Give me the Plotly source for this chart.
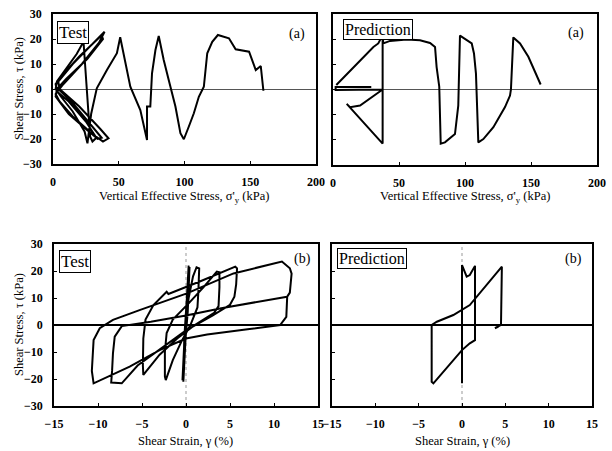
import plotly.graph_objects as go

# ---------------- data ----------------
# (a) Test: shear stress vs vertical effective stress
test_a_sv = [160, 158, 154.2, 149.1, 138.9, 133.8, 125.4, 121.1, 117.3, 114.7, 110.9, 107.1, 103.3, 99.5,
             96.9, 93.1, 88, 84.2, 80.4, 77.9, 75.3, 74, 71.5, 71.5, 66.4, 58.8, 51.1, 48.6, 41, 33.3, 29, 26.2,
             24, 15, 6, 2, 3, 10, 18, 23.2, 24.5, 25.7, 27, 28.2, 30, 33, 25, 12, 3, 2, 8, 20, 30, 38, 39.2,
             35, 22, 8, 2, 5, 15, 30, 38, 42.2, 36, 20, 5, 4, 15, 28, 37, 38, 26, 10, 3, 2, 12, 25, 34, 37,
             28, 14, 4]
test_a_tau = [-0.7, 9.2, 7.6, 14.9, 15.9, 20.3, 21.6, 18.9, 14.3, 0.9, -3.1, -9.7, -15, -20.1,
              -17.7, -7, 3.6, 11.6, 21.2, 15.6, 6.3, -7, -7, -20.4, -8.4, 0.9, 20.7, 14.3, 7.6, 0.3, -10, -21.7,
              -17, -9, -3, 0, 3, 8, 14, 18.9, 9, -0.4, -10, -19, -21, -19.5, -13, -5, -1, 2, 6, 13, 18, 22.5, 22.9,
              18.5, 10, 2, -2, -5, -11, -18, -21, -19.7, -16, -7, 0, 3, 10, 17, 21.5, 20, 12, 4, 0, -3, -10, -16, -20, -19.5,
              -14, -5, 0]

# (a) Prediction
pred_a_sv = [157.3, 148, 141.7, 136.6, 134.8, 134.1, 130.3, 121.5, 113.9, 110.1, 108.3, 106.8, 105.1, 96.2,
             95.2, 94.9, 92.4, 84.8, 81.6, 80.5, 78.5, 77.3, 73.5, 65.9, 55.8, 43.2, 38.1, 37.6, 37.6, 10.4,
             12.9, 20.5, 28, 37.6, 2, 2, 29, None, 2.5, 30.6, 34.3, 36.9]
pred_a_tau = [2, 13, 18.3, 20.7, 0, -2.4, -7, -15, -19.7, -21, 6.3, 14.3, 18.3, 21.4,
              0, -6.4, -17.7, -21, -21.5, 1.1, 8.9, 16.9, 18.5, 19.6, 19.9, 19.3, 18.3, 21.6, -21.5, -5.7,
              -7, -6.4, -3.7, 0, -0.2, 1.0, 1.0, None, 1.8, 16.9, 18.3, 20.9]

# (b) Test: shear stress vs shear strain
test_b_gamma = [0, 0.2, 0.3, 0.1, -0.2, -0.3, -0.1, 0.2, 0.4, 0.2, -0.3, -0.4, -0.1,
                0.3, 0.8, 1.2, 1.5, 1.4, 1.3, 0.5, -0.5, -1.5, -2.3, -2.4, -2.4, -2.2, -1.5, 0.3, 2, 3.5, 3.8,
                3.8, 3.7, 3.2, 1, -1, -3, -4.85, -4.9, -4.85, -4.6, -3.7, -2.2, -2.0, 1.5, 5.6, 5.8,
                5.7, 5.5, 5.0, 3, 0, -3, -5.5, -7.3, -8.5, -8.4, -8.3, -8.1, -7.3, -4, 0, 4, 8, 11.5,
                11.4, 10.7, 7, 2.4, 0, -3, -6.4, -10.5, -10.7, -10.6, -10.5, -9.8, -8.3, -5.2, 0.1, 5.4, 10.9,
                11.8, 12, 11.8, 11.5]
test_b_tau = [0, 15, 22, 10, -5, -21, -8, 10, 21.5, 5, -15, -20.5, 0,
              10, 18, 21.4, 21, 12, 6.5, 0, -6, -13, -20.4, -19, -10, -3, 2, 8, 14, 19.8, 19.5,
              14, 7, 4.5, 0, -5, -11, -18.5, -15, -5, 2, 7.4, 12.3, 11.5, 16, 21.6, 21,
              15, 10.5, 7.5, 3.5, -2, -9, -15, -21.6, -21.3, -17, -10.5, -4.3, -0.4, 1.2, 3.5, 6.2, 8.5, 10.5,
              3, 0, -1.6, -3.5, -5, -9.3, -15.4, -21.6, -17, -10, -5.6, -1.2, 1.9, 5.6, 11.7, 19.1, 23.5,
              21, 19, 12, 10.5]

# (b) Prediction
pred_b_gamma = [0, 0, 0.54, 0.9, 1.5, 1.5, 0.9, 0, -3.3, -3.5, -3.5, -2.9, -1, 0.9, 4.6, 4.5, 3.8, 4.2]
pred_b_tau = [-21.6, 22.2, 17.9, 18.5, 21.9, -5.6, -6.8, -9.3, -21.6, -21, 0, 1.2, 3.7, 7.4, 21.6, 0, -1.2, -0.6]

x_a_ticks = [0, 50, 100, 150, 200]
x_b_ticks = [-15, -10, -5, 0, 5, 10, 15]
y_ticks = [-30, -20, -10, 0, 10, 20, 30]

FONT = "Liberation Serif, Times New Roman, serif"
W, H = 612, 451

def px_x(p):
    return p / W

def px_y(p):
    return 1 - p / H

fig = go.Figure()
line = dict(color="black", width=2)
fig.add_trace(go.Scatter(x=test_a_sv, y=test_a_tau, mode="lines", line=line, xaxis="x", yaxis="y"))
fig.add_trace(go.Scatter(x=pred_a_sv, y=pred_a_tau, mode="lines", line=line, xaxis="x2", yaxis="y2", connectgaps=False))
fig.add_trace(go.Scatter(x=test_b_gamma, y=test_b_tau, mode="lines", line=line, xaxis="x3", yaxis="y3"))
fig.add_trace(go.Scatter(x=pred_b_gamma, y=pred_b_tau, mode="lines", line=line, xaxis="x4", yaxis="y4"))

tickfont = dict(family=FONT, size=12, color="black", weight="bold")
titlefont = dict(family=FONT, size=12.5, color="black")

def xax(dom, anchor, rng, ticks):
    return dict(domain=dom, anchor=anchor, range=rng, tickvals=ticks, showgrid=False,
                zeroline=False, showline=True, mirror=True, linecolor="black", linewidth=1.5,
                ticks="inside", ticklen=3, tickcolor="black", tickfont=tickfont,
                ticklabelstandoff=6, automargin=False)

def yax(dom, anchor, labels, zw, zc):
    return dict(domain=dom, anchor=anchor, range=[-30, 30], tickvals=y_ticks, showgrid=False,
                zeroline=True, zerolinecolor=zc, zerolinewidth=zw,
                showline=True, mirror=True, linecolor="black", linewidth=1.5,
                ticks="inside", ticklen=3, tickcolor="black", tickfont=tickfont,
                showticklabels=labels, ticklabelstandoff=7, automargin=False)

xa_title = "Vertical Effective Stress, σ'<sub>y</sub> (kPa)"
xb_title = "Shear Strain, γ (%)"
y_title = "Shear Stress, τ (kPa)"

fig.update_layout(
    width=W, height=H, margin=dict(l=0, r=0, t=0, b=0),
    paper_bgcolor="white", plot_bgcolor="white", showlegend=False,
    font=dict(family=FONT, color="black"),
    xaxis=xax([px_x(53), px_x(316)], "y", [0, 200], x_a_ticks),
    yaxis=yax([px_y(164), px_y(14)], "x", True, 1, "#555555"),
    xaxis2=xax([px_x(333), px_x(597)], "y2", [0, 200], x_a_ticks),
    yaxis2=yax([px_y(165), px_y(14)], "x2", False, 1, "#555555"),
    xaxis3=xax([px_x(54), px_x(318)], "y3", [-15, 15], x_b_ticks),
    yaxis3=yax([px_y(406), px_y(244)], "x3", True, 1.5, "black"),
    xaxis4=xax([px_x(332), px_x(592)], "y4", [-15, 15], x_b_ticks),
    yaxis4=yax([px_y(406), px_y(244)], "x4", False, 1.5, "black"),
)

# dotted vertical lines at zero strain
for xr, yr in [("x3", "y3 domain"), ("x4", "y4 domain")]:
    fig.add_shape(type="line", xref=xr, yref=yr, x0=0, x1=0, y0=0, y1=1,
                  line=dict(color="#999999", width=1, dash="dot"), layer="below")

box = dict(bordercolor="black", borderwidth=1, bgcolor="white", borderpad=1)
ann = [
    dict(text="Test", x=px_x(57), y=px_y(21), xanchor="left", yanchor="top", font=dict(family=FONT, size=17), **box),
    dict(text="(a)", x=px_x(297), y=px_y(34), xanchor="center", yanchor="middle", font=dict(family=FONT, size=14)),
    dict(text="Prediction", x=px_x(343), y=px_y(19), xanchor="left", yanchor="top", font=dict(family=FONT, size=16), **box),
    dict(text="(a)", x=px_x(576), y=px_y(33), xanchor="center", yanchor="middle", font=dict(family=FONT, size=14)),
    dict(text="Test", x=px_x(59), y=px_y(250), xanchor="left", yanchor="top", font=dict(family=FONT, size=17), **box),
    dict(text="(b)", x=px_x(302), y=px_y(259), xanchor="center", yanchor="middle", font=dict(family=FONT, size=14)),
    dict(text="Prediction", x=px_x(337), y=px_y(248), xanchor="left", yanchor="top", font=dict(family=FONT, size=16), **box),
    dict(text="(b)", x=px_x(573), y=px_y(259), xanchor="center", yanchor="middle", font=dict(family=FONT, size=14)),
    # axis titles
    dict(text=xa_title, x=px_x(184), y=px_y(197), xanchor="center", yanchor="middle", font=titlefont),
    dict(text=xa_title, x=px_x(465), y=px_y(197), xanchor="center", yanchor="middle", font=titlefont),
    dict(text=xb_title, x=px_x(186), y=px_y(441), xanchor="center", yanchor="middle", font=titlefont),
    dict(text=xb_title, x=px_x(462), y=px_y(441), xanchor="center", yanchor="middle", font=titlefont),
    dict(text=y_title, x=px_x(19), y=px_y(89), xanchor="center", yanchor="middle", textangle=-90, font=titlefont),
    dict(text=y_title, x=px_x(19), y=px_y(325), xanchor="center", yanchor="middle", textangle=-90, font=titlefont),
]
for a in ann:
    a.update(xref="paper", yref="paper", showarrow=False)
    fig.add_annotation(**a)

fig.write_html("out.html", config={"displayModeBar": False},
               post_script="document.body.style.margin='0';document.body.style.overflow='hidden';")
